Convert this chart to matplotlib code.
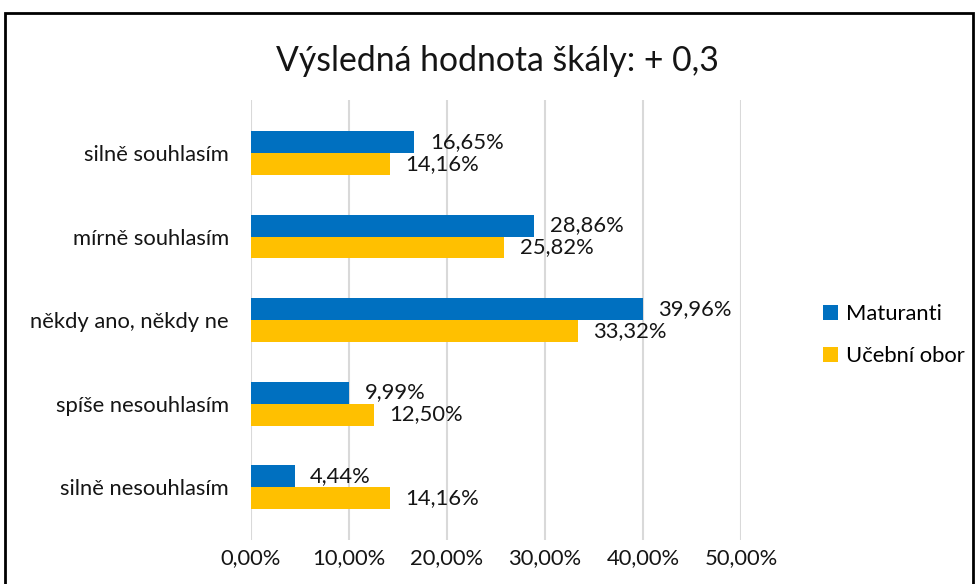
import numpy as np
import matplotlib.pyplot as plt
from matplotlib.patches import Rectangle

plt.rcParams['font.family'] = ['Lato', 'DejaVu Sans']

kategorie = ['silně souhlasím', 'mírně souhlasím', 'někdy ano, někdy ne',
             'spíše nesouhlasím', 'silně nesouhlasím']
maturanti = [16.65, 28.86, 39.96, 9.99, 4.44]
ucebni_obor = [14.16, 25.82, 33.32, 12.50, 14.16]
xticks = [0, 10, 20, 30, 40, 50]

modra = '#0070C0'
zluta = '#FFC000'
txt = '#151515'
fs = 15.8

fig = plt.figure(figsize=(9.75, 5.84), dpi=100)
ax = fig.add_axes([251/975, 1-540/584, 490/975, 440/584])

y = np.arange(len(kategorie))
h = 0.263
b1 = ax.barh(y - h/2, maturanti, height=h, color=modra, label='Maturanti', zorder=3)
b2 = ax.barh(y + h/2, ucebni_obor, height=h, color=zluta, label='Učební obor', zorder=3)

# popisky hodnot u sloupcu
for bars in (b1, b2):
    for r in bars:
        v = r.get_width()
        ax.text(v + 1.6, r.get_y() + r.get_height()/2, f'{v:.2f}%'.replace('.', ','),
                va='center', ha='left', fontsize=fs, color=txt)

ax.set_xlim(0, 50)
ax.set_ylim(4.634, -0.635)
ax.set_xticks(xticks)
ax.set_xticklabels([f'{t:.2f}%'.replace('.', ',') for t in xticks], fontsize=fs, color=txt)
ax.set_yticks(y)
ax.set_yticklabels(kategorie, fontsize=fs, color=txt)
ax.tick_params(length=0)
ax.tick_params(axis='x', pad=6)
ax.tick_params(axis='y', pad=16)
ax.grid(axis='x', color='#D9D9D9', linewidth=1.5, zorder=0)
for s in ax.spines.values():
    s.set_visible(False)

fig.text(497/975, 1-61/584, 'Výsledná hodnota škály: + 0,3', ha='center', va='center',
         fontsize=24.3, color=txt)

fig.legend(handles=[b1, b2], loc='center left', bbox_to_anchor=(803/975, 1-335/584),
           frameon=False, fontsize=fs, handlelength=0.7, handleheight=0.7,
           handletextpad=0.35, labelspacing=1.0)

# ramecek kolem grafu
fig.add_artist(Rectangle((5/975, -0.05), 968/975, 1.05 - 13/584,
                         transform=fig.transFigure, fill=False,
                         edgecolor='black', linewidth=2))

fig.savefig('out.png', dpi=100)
